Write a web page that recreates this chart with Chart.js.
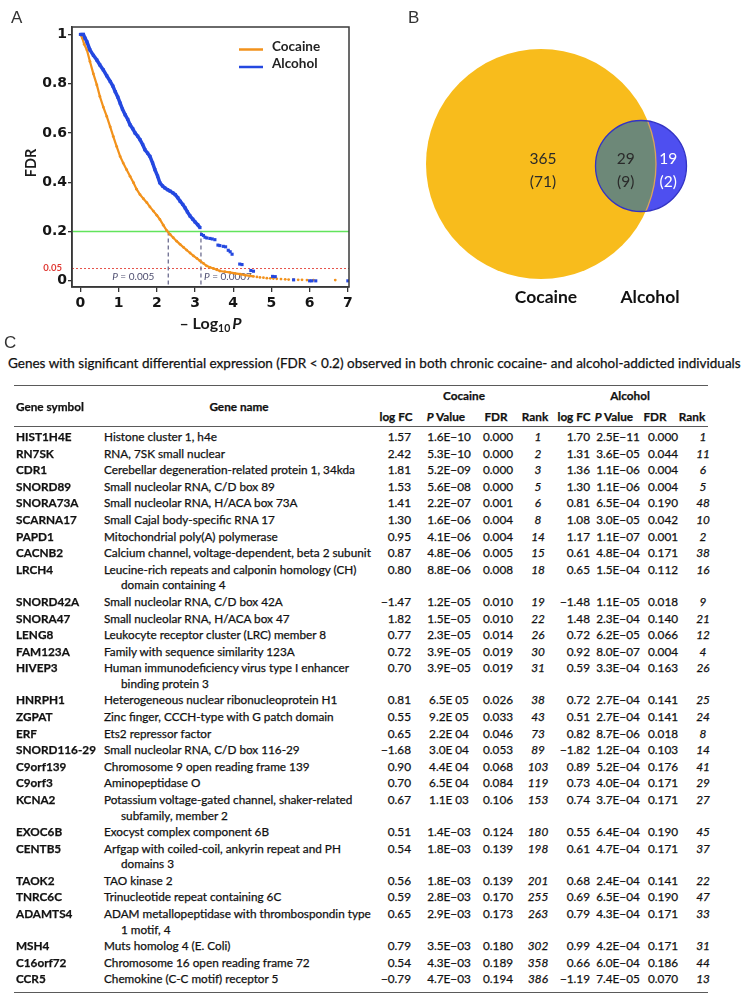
<!DOCTYPE html>
<html>
<head>
<meta charset="utf-8">
<script src="https://cdn.jsdelivr.net/npm/chart.js@4.4.1/dist/chart.umd.min.js"></script>
<style>
html, body { margin: 0; padding: 0; background: #fff; }
body { width: 751px; height: 1002px; position: relative; overflow: hidden; font-family: Lato, sans-serif; color: #111; }
canvas { position: absolute; }
#chartA { left: 0; top: 0; }
#chartB { left: 370px; top: 0; }
.letter { position: absolute; font-family: "Liberation Sans", Arial, sans-serif; font-size: 17px; color: #333; line-height: 20px; }
.rule { position: absolute; left: 14px; width: 694px; height: 1.3px; background: #5a5a5a; }
.c { position: absolute; white-space: nowrap; line-height: 16px; height: 16px; -webkit-text-stroke: 0.25px #111; }
#title { position: absolute; left: 8px; top: 354px; white-space: nowrap; line-height: 18px; -webkit-text-stroke: 0.25px #111; }
</style>
</head>
<body>
<canvas id="chartA" width="370" height="335"></canvas>
<canvas id="chartB" width="381" height="320"></canvas>
<div class="letter" style="left:11px;top:8px;">A</div>
<div class="letter" style="left:408px;top:8px;">B</div>
<div class="letter" style="left:4px;top:333px;">C</div>
<div id="title">Genes with significant differential expression (FDR &lt; 0.2) observed in both chronic cocaine- and alcohol-addicted individuals</div>
<div id="table"></div>
<script>
// ---- panel A : FDR against -log10 P ----
const xTicks = [0, 1, 2, 3, 4, 5, 6, 7];
const yTicks = [0, 0.2, 0.4, 0.6, 0.8, 1];

const cocaineX = [0.00, 0.05, 0.10, 0.17, 0.25, 0.34, 0.43, 0.51, 0.60, 0.69, 0.78, 0.86, 0.95, 1.04, 1.12, 1.21, 1.30, 1.39,
  1.47, 1.56, 1.65, 1.74, 1.82, 1.91, 2.00, 2.08, 2.17, 2.26, 2.35, 2.43, 2.52, 2.61, 2.70, 2.78, 2.87, 2.96, 3.05, 3.13,
  3.22, 3.30, 3.39, 3.48, 3.57, 3.65, 3.78, 3.91, 4.05, 4.18, 4.31, 4.44, 4.53,
  4.62, 4.70, 4.79, 4.88, 4.97, 5.05, 5.14, 5.25, 5.36, 5.45, 5.58, 5.70, 5.80, 5.93, 6.10, 6.67];
const cocaineY = [1.000, 0.985, 0.960, 0.937, 0.890, 0.840, 0.795, 0.748, 0.705, 0.667, 0.625, 0.586, 0.545, 0.505, 0.478, 0.451, 0.424, 0.398,
  0.372, 0.350, 0.333, 0.317, 0.300, 0.283, 0.266, 0.249, 0.226, 0.204, 0.188, 0.175, 0.161, 0.148, 0.136, 0.125, 0.113, 0.101, 0.091, 0.081,
  0.071, 0.061, 0.055, 0.050, 0.045, 0.040, 0.037, 0.034, 0.030, 0.027, 0.023, 0.020, 0.018,
  0.016, 0.014, 0.013, 0.011, 0.010, 0.009, 0.008, 0.007, 0.006, 0.005, 0.005, 0.004, 0.004, 0.003, 0.003, 0.003];
const cocaineDenseEnd = 4.53;

const alcoholX = [0.00, 0.08, 0.12, 0.17, 0.25, 0.34, 0.43, 0.51, 0.60, 0.69, 0.78, 0.85, 0.91, 0.98, 1.04, 1.10, 1.17, 1.24,
  1.30, 1.37, 1.43, 1.50, 1.56, 1.63, 1.69, 1.76, 1.82, 1.89, 1.95, 2.02, 2.08, 2.15, 2.21, 2.28, 2.35, 2.42, 2.48, 2.55,
  2.61, 2.68, 2.74, 2.80, 2.87, 2.94, 3.00, 3.07, 3.13,
  3.17, 3.22, 3.26, 3.31, 3.39, 3.45, 3.52, 3.60, 3.65, 3.74, 3.80, 3.87, 3.92, 3.97, 4.17, 4.23, 4.46, 4.53,
  5.03, 5.10, 5.58, 6.00, 6.06, 6.16, 7.00];
const alcoholY = [1.000, 1.000, 0.985, 0.970, 0.937, 0.915, 0.896, 0.876, 0.856, 0.832, 0.809, 0.790, 0.768, 0.745, 0.721, 0.697, 0.674, 0.655,
  0.633, 0.617, 0.600, 0.587, 0.573, 0.553, 0.532, 0.518, 0.505, 0.478, 0.451, 0.425, 0.398, 0.385, 0.377, 0.370, 0.364, 0.357, 0.350, 0.337,
  0.323, 0.310, 0.296, 0.280, 0.263, 0.250, 0.239, 0.228, 0.216,
  0.188, 0.184, 0.177, 0.174, 0.172, 0.170, 0.167, 0.145, 0.143, 0.140, 0.138, 0.124, 0.118, 0.108, 0.068, 0.066, 0.042, 0.039,
  0.018, 0.017, 0.004, 0.000, 0.000, 0.000, 0.000];
const alcoholDenseEnd = 3.13;

const fdrCutoff = 0.2;
const fdrStrict = 0.05;
const cutoffX = [2.30, 3.155];
const cutoffP = ['0.005', '0.0007'];

// ---- panel B : overlap of significant genes ----
const vennSets = ['Cocaine', 'Alcohol'];
const vennOnly = [365, 19];
const vennOnlyParen = [71, 2];
const vennShared = 29;
const vennSharedParen = 9;

// ---- panel C : table ----
const geneSymbols = ['HIST1H4E', 'RN7SK', 'CDR1', 'SNORD89', 'SNORA73A', 'SCARNA17', 'PAPD1', 'CACNB2', 'LRCH4', 'SNORD42A',
  'SNORA47', 'LENG8', 'FAM123A', 'HIVEP3', 'HNRPH1', 'ZGPAT', 'ERF', 'SNORD116-29', 'C9orf139', 'C9orf3', 'KCNA2', 'EXOC6B',
  'CENTB5', 'TAOK2', 'TNRC6C', 'ADAMTS4', 'MSH4', 'C16orf72', 'CCR5'];
const geneNames = ['Histone cluster 1, h4e', 'RNA, 7SK small nuclear', 'Cerebellar degeneration-related protein 1, 34kda',
  'Small nucleolar RNA, C/D box 89', 'Small nucleolar RNA, H/ACA box 73A', 'Small Cajal body-specific RNA 17',
  'Mitochondrial poly(A) polymerase', 'Calcium channel, voltage-dependent, beta 2 subunit',
  'Leucine-rich repeats and calponin homology (CH)|domain containing 4', 'Small nucleolar RNA, C/D box 42A',
  'Small nucleolar RNA, H/ACA box 47', 'Leukocyte receptor cluster (LRC) member 8', 'Family with sequence similarity 123A',
  'Human immunodeficiency virus type I enhancer|binding protein 3', 'Heterogeneous nuclear ribonucleoprotein H1',
  'Zinc finger, CCCH-type with G patch domain', 'Ets2 repressor factor', 'Small nucleolar RNA, C/D box 116-29',
  'Chromosome 9 open reading frame 139', 'Aminopeptidase O', 'Potassium voltage-gated channel, shaker-related|subfamily, member 2',
  'Exocyst complex component 6B', 'Arfgap with coiled-coil, ankyrin repeat and PH|domains 3', 'TAO kinase 2',
  'Trinucleotide repeat containing 6C', 'ADAM metallopeptidase with thrombospondin type|1 motif, 4', 'Muts homolog 4 (E. Coli)',
  'Chromosome 16 open reading frame 72', 'Chemokine (C-C motif) receptor 5'];
const cocLogFC = [1.57, 2.42, 1.81, 1.53, 1.41, 1.30, 0.95, 0.87, 0.80, -1.47, 1.82, 0.77, 0.72, 0.70, 0.81, 0.55, 0.65, -1.68,
  0.90, 0.70, 0.67, 0.51, 0.54, 0.56, 0.59, 0.65, 0.79, 0.54, -0.79];
const cocP = ['1.6E−10', '5.3E−10', '5.2E−09', '5.6E−08', '2.2E−07', '1.6E−06', '4.1E−06', '4.8E−06', '8.8E−06', '1.2E−05',
  '1.5E−05', '2.3E−05', '3.9E−05', '3.9E−05', '6.5E 05', '9.2E 05', '2.2E 04', '3.0E 04', '4.4E 04', '6.5E 04', '1.1E 03',
  '1.4E−03', '1.8E−03', '1.8E−03', '2.8E−03', '2.9E−03', '3.5E−03', '4.3E−03', '4.7E−03'];
const cocFDR = [0.000, 0.000, 0.000, 0.000, 0.001, 0.004, 0.004, 0.005, 0.008, 0.010, 0.010, 0.014, 0.019, 0.019, 0.026, 0.033,
  0.046, 0.053, 0.068, 0.084, 0.106, 0.124, 0.139, 0.139, 0.170, 0.173, 0.180, 0.189, 0.194];
const cocRank = [1, 2, 3, 5, 6, 8, 14, 15, 18, 19, 22, 26, 30, 31, 38, 43, 73, 89, 103, 119, 153, 180, 198, 201, 255, 263, 302, 358, 386];
const alcLogFC = [1.70, 1.31, 1.36, 1.30, 0.81, 1.08, 1.17, 0.61, 0.65, -1.48, 1.48, 0.72, 0.92, 0.59, 0.72, 0.51, 0.82, -1.82,
  0.89, 0.73, 0.74, 0.55, 0.61, 0.68, 0.69, 0.79, 0.99, 0.66, -1.19];
const alcP = ['2.5E−11', '3.6E−05', '1.1E−06', '1.1E−06', '6.5E−04', '3.0E−05', '1.1E−07', '4.8E−04', '1.5E−04', '1.1E−05',
  '2.3E−04', '6.2E−05', '8.0E−07', '3.3E−04', '2.7E−04', '2.7E−04', '8.7E−06', '1.2E−04', '5.2E−04', '4.0E−04', '3.7E−04',
  '6.4E−04', '4.7E−04', '2.4E−04', '6.5E−04', '4.3E−04', '4.2E−04', '6.0E−04', '7.4E−05'];
const alcFDR = [0.000, 0.044, 0.004, 0.004, 0.190, 0.042, 0.001, 0.171, 0.112, 0.018, 0.140, 0.066, 0.004, 0.163, 0.141, 0.141,
  0.018, 0.103, 0.176, 0.171, 0.171, 0.190, 0.171, 0.141, 0.190, 0.171, 0.171, 0.186, 0.070];
const alcRank = [1, 11, 6, 5, 48, 10, 2, 38, 16, 9, 21, 12, 4, 26, 25, 24, 8, 14, 41, 29, 27, 45, 37, 22, 47, 33, 31, 44, 13];

const orange = '#f2921c';
const blue = '#2448e0';

function pts(xs, ys) { return xs.map((x, i) => ({ x: x, y: ys[i] })); }

// guides, frame, legend and axis titles of panel A
const panelAExtras = {
  id: 'panelAExtras',
  beforeDatasetsDraw(chart) {
    const { ctx, chartArea: a, scales: { x, y } } = chart;
    ctx.save();
    const yCut = y.getPixelForValue(fdrCutoff);
    ctx.strokeStyle = '#62e45c';
    ctx.lineWidth = 1.5;
    ctx.beginPath(); ctx.moveTo(a.left, yCut); ctx.lineTo(a.right, yCut); ctx.stroke();

    const yStrict = y.getPixelForValue(fdrStrict);
    ctx.strokeStyle = '#e6524a';
    ctx.lineWidth = 1;
    ctx.setLineDash([2, 2]);
    ctx.beginPath(); ctx.moveTo(a.left, yStrict); ctx.lineTo(a.right, yStrict); ctx.stroke();

    ctx.strokeStyle = '#6d6d90';
    ctx.lineWidth = 1.3;
    ctx.setLineDash([4, 3]);
    cutoffX.forEach(v => {
      const px = x.getPixelForValue(v);
      ctx.beginPath(); ctx.moveTo(px, yCut); ctx.lineTo(px, a.bottom); ctx.stroke();
    });
    ctx.setLineDash([]);

    // P = ... labels next to the dashed lines
    ctx.fillStyle = '#4e4e70';
    ctx.textBaseline = 'middle';
    const yLab = y.getPixelForValue(0) - 4;
    cutoffP.forEach((p, i) => {
      const px = x.getPixelForValue(cutoffX[i]);
      ctx.font = 'italic 10px Lato';
      const w1 = ctx.measureText('P').width;
      ctx.font = '10px Lato';
      const rest = ' = ' + p;
      const w2 = ctx.measureText(rest).width;
      let sx = i === 0 ? px - 14 - w1 - w2 : px + 3;
      ctx.font = 'italic 10px Lato';
      ctx.fillText('P', sx, yLab);
      ctx.font = '10px Lato';
      ctx.fillText(rest, sx + w1, yLab);
    });
    ctx.restore();
  },
  afterDraw(chart) {
    const { ctx, chartArea: a, scales: { x, y } } = chart;
    ctx.save();
    ctx.strokeStyle = '#3a3a3a';
    ctx.lineWidth = 1.5;
    ctx.strokeRect(a.left, a.top, a.right - a.left, a.bottom - a.top);

    // legend
    const lx = a.right - 110;
    [[orange, 'Cocaine', 22.5], [blue, 'Alcohol', 40]].forEach(([col, txt, dy]) => {
      ctx.strokeStyle = col;
      ctx.lineWidth = 2.5;
      ctx.beginPath(); ctx.moveTo(lx, a.top + dy); ctx.lineTo(lx + 24, a.top + dy); ctx.stroke();
      ctx.fillStyle = '#222';
      ctx.font = 'bold 13.5px Lato';
      ctx.textBaseline = 'alphabetic';
      ctx.fillText(txt, lx + 33, a.top + dy + 1);
    });

    // red 0.05 label
    ctx.fillStyle = '#e03a34';
    ctx.font = 'bold 9.5px Lato';
    ctx.textAlign = 'right';
    ctx.textBaseline = 'middle';
    ctx.fillText(String(fdrStrict), a.left - 10, y.getPixelForValue(fdrStrict) - 1);

    // y title
    ctx.save();
    ctx.translate(31, (a.top + a.bottom) / 2 + 6);
    ctx.rotate(-Math.PI / 2);
    ctx.textAlign = 'center';
    ctx.fillStyle = '#1a1a1a';
    ctx.font = 'bold 14.5px Lato';
    ctx.fillText('FDR', 0, 0);
    ctx.restore();

    // x title: – Log10 P
    ctx.textAlign = 'left';
    ctx.textBaseline = 'alphabetic';
    ctx.fillStyle = '#1a1a1a';
    const p1 = '– Log', p2 = '10', p3 = 'P';
    ctx.font = 'bold 16px Lato'; const w1 = ctx.measureText(p1).width;
    ctx.font = 'bold 10.5px Lato'; const w2 = ctx.measureText(p2).width;
    ctx.font = 'italic bold 16px Lato'; const w3 = ctx.measureText(p3).width;
    let sx = (a.left + a.right) / 2 + 0 - (w1 + w2 + w3 + 2) / 2;
    const by = a.bottom + 42;
    ctx.font = 'bold 16px Lato'; ctx.fillText(p1, sx, by);
    ctx.font = 'bold 10.5px Lato'; ctx.fillText(p2, sx + w1, by + 3);
    ctx.font = 'italic bold 16px Lato'; ctx.fillText(p3, sx + w1 + w2 + 2, by);
    ctx.restore();
  }
};

const tickFont = { family: 'DejaVu Sans', weight: 'bold', size: 14 };

new Chart(document.getElementById('chartA'), {
  type: 'scatter',
  data: {
    datasets: [
      {
        label: 'Alcohol',
        data: pts(alcoholX, alcoholY),
        showLine: true,
        borderColor: blue,
        backgroundColor: blue,
        borderWidth: 3.5,
        pointStyle: 'rect',
        pointRadius: 2.2,
        pointBorderWidth: 0,
        segment: { borderColor: c => c.p0.parsed.x >= alcoholDenseEnd - 1e-9 ? 'rgba(0,0,0,0)' : blue }
      },
      {
        label: 'Cocaine',
        data: pts(cocaineX, cocaineY),
        showLine: true,
        borderColor: orange,
        backgroundColor: orange,
        borderWidth: 2.2,
        pointStyle: 'circle',
        pointRadius: 1.4,
        pointBorderWidth: 0,
        segment: { borderColor: c => c.p0.parsed.x >= cocaineDenseEnd - 1e-9 ? 'rgba(0,0,0,0)' : orange }
      }
    ]
  },
  options: {
    responsive: false,
    animation: false,
    layout: { autoPadding: false, padding: { top: 27, right: 21, left: 0, bottom: 0 } },
    plugins: { legend: { display: false }, tooltip: { enabled: false } },
    scales: {
      x: {
        type: 'linear', min: -0.22, max: 7.03,
        afterBuildTicks: s => { s.ticks = xTicks.map(v => ({ value: v })); },
        afterFit: s => { s.height = 48; },
        grid: { drawOnChartArea: false, tickLength: 5, tickColor: '#333', lineWidth: 1.3 },
        border: { color: '#333', width: 1.5 },
        ticks: { font: tickFont, color: '#151515', padding: 3, maxRotation: 0, autoSkip: false, callback: v => String(v) }
      },
      y: {
        type: 'linear', min: -0.025, max: 1.03,
        afterBuildTicks: s => { s.ticks = yTicks.map(v => ({ value: v })); },
        afterFit: s => { s.width = 72; },
        grid: { drawOnChartArea: false, tickLength: 4, tickColor: '#333', lineWidth: 1.3 },
        border: { color: '#333', width: 1.5 },
        ticks: { font: tickFont, color: '#151515', padding: 1, autoSkip: false, callback: v => String(v) }
      }
    }
  },
  plugins: [panelAExtras]
});

// ---- panel B ----
const vennColor = ['#f8bc1c', '#4e4ff0'];
const overlapColor = '#6d8878';

const vennExtras = {
  id: 'vennExtras',
  afterDatasetsDraw(chart) {
    const ctx = chart.ctx;
    const c = chart.getDatasetMeta(0).data[0];
    const a = chart.getDatasetMeta(1).data[0];
    const rc = c.options.radius, ra = a.options.radius;
    ctx.save();
    ctx.beginPath(); ctx.arc(c.x, c.y, rc, 0, 2 * Math.PI); ctx.clip();
    ctx.beginPath(); ctx.arc(a.x, a.y, ra, 0, 2 * Math.PI);
    ctx.fillStyle = overlapColor; ctx.fill();
    ctx.restore();

    ctx.save();
    ctx.beginPath(); ctx.arc(a.x, a.y, ra, 0, 2 * Math.PI); ctx.clip();
    ctx.beginPath(); ctx.arc(c.x, c.y, rc, 0, 2 * Math.PI);
    ctx.strokeStyle = '#dba35c'; ctx.lineWidth = 1.3; ctx.stroke();
    ctx.restore();

    ctx.save();
    ctx.beginPath(); ctx.arc(a.x, a.y, ra, 0, 2 * Math.PI);
    ctx.strokeStyle = '#3333c4'; ctx.lineWidth = 1.3; ctx.stroke();

    ctx.textAlign = 'center';
    ctx.textBaseline = 'middle';
    ctx.font = '15.5px Lato';
    const onlyC = c.x + 2;
    const shared = ((a.x - ra) + (c.x + rc)) / 2;
    const onlyA = ((c.x + rc) + (a.x + ra)) / 2 - 3;
    const ty = c.y - 5;
    ctx.fillStyle = '#2a2a2a';
    ctx.fillText(String(vennOnly[0]), onlyC, ty);
    ctx.fillText('(' + vennOnlyParen[0] + ')', onlyC, ty + 23);
    ctx.fillText(String(vennShared), shared, ty);
    ctx.fillText('(' + vennSharedParen + ')', shared, ty + 23);
    ctx.fillStyle = '#ffffff';
    ctx.fillText(String(vennOnly[1]), onlyA, ty);
    ctx.fillText('(' + vennOnlyParen[1] + ')', onlyA, ty + 23);

    ctx.fillStyle = '#111';
    ctx.font = 'bold 17.5px Lato';
    ctx.fillText(vennSets[0], c.x + 5, c.y + rc + 18);
    ctx.fillText(vennSets[1], a.x + 9, c.y + rc + 18);
    ctx.restore();
  }
};

// circle placement in the panel's own units (layout, not data)
const vennCenterX = [171, 271];
const vennCenterY = [164, 166];
const vennRadius = [115, 45.5];

new Chart(document.getElementById('chartB'), {
  type: 'bubble',
  data: {
    datasets: vennSets.map((s, i) => ({
      label: s,
      data: [{ x: vennCenterX[i], y: vennCenterY[i], r: vennRadius[i] }],
      backgroundColor: vennColor[i],
      borderWidth: 0,
      order: 2 - i,
      clip: false
    }))
  },
  options: {
    responsive: false,
    animation: false,
    layout: { autoPadding: false, padding: 0 },
    plugins: { legend: { display: false }, tooltip: { enabled: false } },
    scales: {
      x: { display: false, min: 0, max: 381 },
      y: { display: false, min: 0, max: 320, reverse: true }
    }
  },
  plugins: [vennExtras]
});

// ---- panel C : table ----
const tbl = document.getElementById('table');
const fmtFC = v => (v < 0 ? '−' : '') + Math.abs(v).toFixed(2);

// fit body font so the names span as in the reference
const mctx = document.createElement('canvas').getContext('2d');
mctx.font = '12px Lato';
const bodySize = 12 * 251 / mctx.measureText('Cerebellar degeneration-related protein 1, 34kda').width;
mctx.font = '13px Lato';
const titleSize = 13 * 733 / mctx.measureText(document.getElementById('title').textContent).width;
document.getElementById('title').style.fontSize = titleSize.toFixed(2) + 'px';

function cell(text, cy, opts) {
  const d = document.createElement('div');
  d.className = 'c';
  d.textContent = text;
  d.style.top = (cy - 8) + 'px';
  d.style.fontSize = bodySize.toFixed(2) + 'px';
  if (opts.bold) d.style.fontWeight = 'bold';
  if (opts.italic) d.style.fontStyle = 'italic';
  if (opts.left != null) d.style.left = opts.left + 'px';
  if (opts.right != null) { d.style.right = (751 - opts.right) + 'px'; d.style.textAlign = 'right'; }
  if (opts.center != null) { d.style.left = opts.center + 'px'; d.style.transform = 'translateX(-50%)'; }
  tbl.appendChild(d);
  return d;
}
function rule(y) {
  const r = document.createElement('div');
  r.className = 'rule';
  r.style.top = y + 'px';
  tbl.appendChild(r);
}

rule(385);
rule(426);
cell('Cocaine', 396, { center: 464, bold: true });
cell('Alcohol', 396, { center: 630, bold: true });
cell('Gene symbol', 407, { left: 16, bold: true });
cell('Gene name', 407, { center: 239, bold: true });
const subHead = [['log FC', 396], ['P Value', 446], ['FDR', 496], ['Rank', 535], ['log FC', 574], ['P Value', 614], ['FDR', 655], ['Rank', 692]];
subHead.forEach(([t, cx]) => {
  const d = cell(t, 416.5, { center: cx, bold: true });
  if (t === 'P Value') d.innerHTML = '<i>P</i> Value';
});

let cy = 437;
geneSymbols.forEach((g, i) => {
  const lines = geneNames[i].split('|');
  cell(g, cy, { left: 16, bold: true });
  cell(lines[0], cy, { left: 104 });
  if (lines[1]) cell(lines[1], cy + 15.5, { left: 121 });
  cell(fmtFC(cocLogFC[i]), cy, { right: 411 });
  cell(cocP[i], cy, { center: 449 });
  cell(cocFDR[i].toFixed(3), cy, { center: 498 });
  cell(String(cocRank[i]), cy, { center: 538, italic: true });
  cell(fmtFC(alcLogFC[i]), cy, { right: 590 });
  cell(alcP[i], cy, { center: 618 });
  cell(alcFDR[i].toFixed(3), cy, { center: 663 });
  cell(String(alcRank[i]), cy, { center: 703, italic: true });
  cy += 16.6 + (lines[1] ? 15.5 : 0);
});
rule(992);
</script>
</body>
</html>
